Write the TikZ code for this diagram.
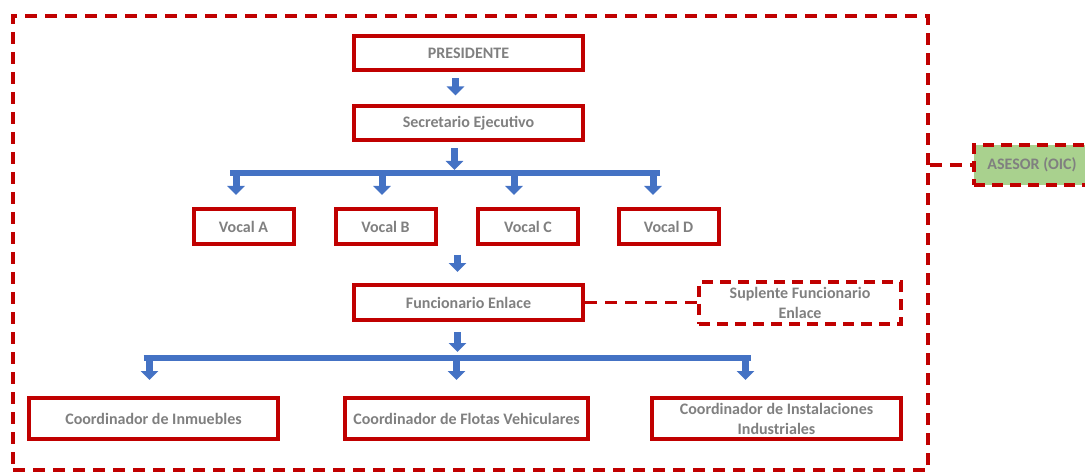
\documentclass[tikz,border=0pt]{standalone}
\usepackage{fontspec}
\setmainfont{Carlito}
\usepackage{tikz}
\usetikzlibrary{arrows.meta}
\definecolor{rojo}{HTML}{C00000}
\definecolor{azul}{HTML}{4472C4}
\definecolor{verde}{HTML}{A9D18E}
\definecolor{gris}{HTML}{808080}
\tikzstyle{cargo} = [rectangle, minimum width=229pt, minimum height=34pt, inner sep=0pt, text centered, draw=rojo, line width=4pt, fill=white, text=gris, font=\fontsize{16}{20}\selectfont\bfseries]
\tikzstyle{vocal} = [cargo, minimum width=100pt, minimum height=35pt]
\tikzstyle{coord} = [cargo, minimum width=249pt, minimum height=41pt, align=center]
\tikzstyle{suplente} = [cargo, minimum width=202pt, minimum height=42pt, align=center, dash pattern=on 11pt off 7pt]
\tikzstyle{asesor} = [cargo, minimum width=116pt, minimum height=40pt, fill=verde, line width=3.5pt, dash pattern=on 11pt off 7pt]
\tikzstyle{marco} = [rectangle, minimum width=915pt, minimum height=454pt, draw=rojo, line width=3.5pt, dash pattern=on 12pt off 8pt]
\tikzstyle{flecha} = [line width=7pt, draw=azul, -{Triangle[width=17pt, length=9pt]}]
\tikzstyle{barra} = [line width=6pt, draw=azul]
\tikzstyle{enlace} = [line width=3.5pt, draw=rojo, dash pattern=on 12pt off 8pt]
\begin{document}
\begin{tikzpicture}[x=1pt, y=1pt, node distance=70pt]
\useasboundingbox (0,0) rectangle (1085,-476);

\node (marco) [marco] at (470.5,-243) {};

\node (pres) [cargo] at (468.5,-53.5) {PRESIDENTE};
\node (sec) [cargo, below of=pres] {Secretario Ejecutivo};
\draw [flecha, shorten <=6pt, shorten >=9pt] ([xshift=-13pt]pres.south) -- ([xshift=-13pt]sec.north);

% vocales
\node (hub1) [coordinate, below of=sec, node distance=49.5pt] {};
\draw [flecha, shorten <=6pt, shorten >=3pt] ([xshift=-14pt]sec.south) -- ([xshift=-14pt]hub1);
\node (vocB) [vocal, below of=sec, xshift=-83pt, yshift=-33pt] {Vocal B};
\node (vocA) [vocal, left of=vocB, xshift=-72pt] {Vocal A};
\node (vocC) [vocal, right of=vocB, xshift=72.5pt] {Vocal C};
\node (vocD) [vocal, right of=vocC, xshift=70.5pt] {Vocal D};
\draw [barra, shorten <=-13.5pt, shorten >=8.5pt] (vocA |- hub1) -- (vocD |- hub1);
\foreach \v/\dx in {vocA/-7.5, vocB/-3.5, vocC/-14, vocD/-15.5}
  \draw [flecha, shorten <=2pt, shorten >=12pt] ([xshift=\dx pt]\v |- hub1) -- ([xshift=\dx pt]\v.north);

% enlace
\node (func) [cargo, below of=sec, yshift=-109pt, minimum height=35pt] {Funcionario Enlace};
\node (hub0) [coordinate, above of=func, node distance=56pt] {};
\draw [flecha, shorten <=8pt, shorten >=11pt] ([xshift=-11pt]hub0) -- ([xshift=-11pt]func.north);
\node (supl) [suplente, right of=func, xshift=261.5pt] {Suplente Funcionario\\Enlace};
\draw [enlace] (func.east) -- (func.east -| supl.west);

% coordinadores
\node (hub2) [coordinate, below of=func, node distance=55.5pt] {};
\draw [flecha, shorten <=10pt, shorten >=6pt] ([xshift=-11pt]func.south) -- ([xshift=-11pt]hub2);
\node (coFlo) [coord, below of=func, xshift=-2pt, yshift=-46pt, minimum width=243pt] {Coordinador de Flotas Vehiculares};
\node (coInm) [coord, left of=coFlo, xshift=-243pt] {Coordinador de Inmuebles};
\node (coIns) [coord, right of=coFlo, xshift=240pt] {Coordinador de Instalaciones\\Industriales};
\draw [barra, shorten <=-10pt, shorten >=26pt] (coInm |- hub2) -- (coIns |- hub2);
\foreach \c/\dx in {coInm/-4, coFlo/-10, coIns/-31}
  \draw [flecha, shorten <=2pt, shorten >=16pt] ([xshift=\dx pt]\c |- hub2) -- ([xshift=\dx pt]\c.north);

% asesor externo
\node (asesor) [asesor] at (1032,-165) {ASESOR (OIC)};
\draw [enlace] (marco.east |- asesor.west) -- (asesor.west);

\end{tikzpicture}
\end{document}
